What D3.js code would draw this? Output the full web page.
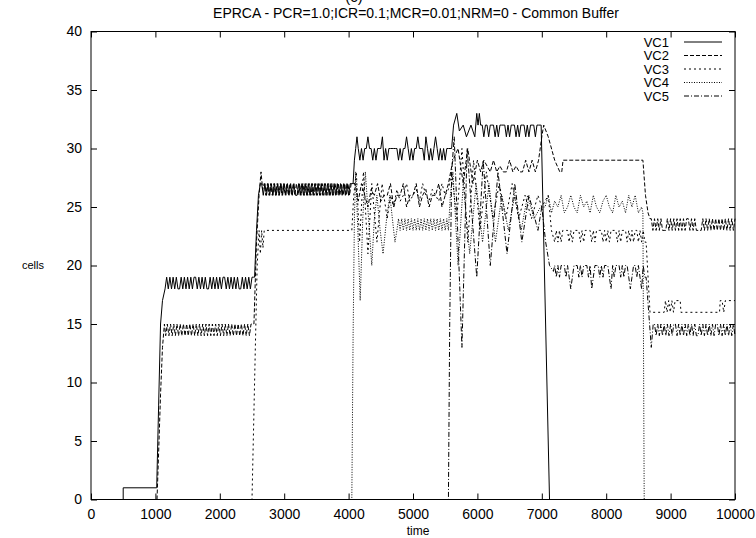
<!DOCTYPE html>
<html>
<head>
<meta charset="utf-8">
<script src="https://cdn.jsdelivr.net/npm/d3@7/dist/d3.min.js"></script>
<style>
body { margin: 0; background: #fff; }
text { font-family: "Liberation Sans", Arial, sans-serif; fill: #000; }
</style>
</head>
<body>
<svg id="chart" width="756" height="538"></svg>
<script>
////////////////////////////////////////////////////////////////////////
// Data: cells per VC over time.  A piece is either a list of [time, cells]
// points or a run {t: start, dt: step, v: [cells...]} read at a fixed step.

let titleText = "EPRCA - PCR=1.0;ICR=0.1;MCR=0.01;NRM=0 - Common Buffer";
let xTicks = [0, 1000, 2000, 3000, 4000, 5000, 6000, 7000, 8000, 9000, 10000];
let yTicks = [0, 5, 10, 15, 20, 25, 30, 35, 40];
let vcNames = ["VC1", "VC2", "VC3", "VC4", "VC5"];

let vc1 = [
  [[0,0],[500,0],[500,1],[1020,1],[1050,8],[1080,15],[1110,17],[1150,18]],
  {t: 1175, dt: 25, v: [19,18,19,18,19,18,19,18,18,19, 18,19,18,19,18,19,18,19,19,18,
                        19,18,19,18,19,18,18,19,18,19, 18,19,18,19,18,19,19,18,19,18,
                        19,18,19,18,19,18,18,19,18,19, 18,19,18,19,19]},
  [[2540,19],[2570,23],[2600,26],[2630,27]],
  {t: 2650, dt: 25, v: [27,26,27,26,27,26,27,26,27,26, 27,26,27,26,27,26,27,26,27,26,
                        27,26,26,27,26,27,26,27,26,27, 26,27,26,27,26,27,26,27,26,27,
                        26,27,26,27,26,27,26,27,26,27, 26,27,26,27,26,27,27]},
  [[4070,27],[4090,29],[4110,30],[4130,31],[4150,30]],
  {t: 4175, dt: 25, v: [29,30,29,30,30,31,30,30,29,30, 29,30,30,30,31,29,30,29,30,30,
                        30,30,30,30,29,30,29,30,30,31, 30,29,30,29,30,30,31,30,30,30,
                        29,31,30,29,30,29,30,31,30,29, 30,29,30,29,30,30,30]},
  [[5600,30],[5630,32],[5680,33],[5720,31.5],[5780,32],[5830,31],[5900,32],[5960,31],
   [5990,33],[6010,32],[6030,33],[6050,32]],
  {t: 6075, dt: 25, v: [32,31,32,32,31,32,32,32,31,32, 31,32,32,32,32,31,32,31,32,32,
                        32,31,32,31,32,32,32,31,32,31, 32,32,32,31,32,32,32]},
  [[6990,32],[7120,0],[10000,0]]
];

let vc2 = [
  [[0,0],[1025,0],[1050,4],[1080,9],[1110,13],[1140,15]],
  {t: 1160, dt: 25, v: [14,15,14,15,14,15,14,15,14,15, 14,15,14,15,14,15,14,15,14,15,
                        14,15,14,15,14,15,14,15,14,15, 14,15,14,15,14,15,14,15,14,15,
                        14,15,14,15,14,15,14,15,14,15, 14,15,14,15,15]},
  [[2530,15],[2570,22],[2610,26],[2640,28],[2665,26.5]],
  {t: 2690, dt: 25, v: [27,26,27,26,27,26,27,26,27,26, 27,26,27,26,27,26,27,26,27,26,
                        27,26,27,26,27,26,27,26,27,26, 27,26,27,26,27,26,27,26,27,26,
                        27,26,27,26,27,26,27,26,27,26, 27,26,27,26,27]},
  [[4100,27],[4150,25.5],[4200,27],[4250,26],[4300,25],[4350,26.5],[4400,26],[4450,27],
   [4500,25.5],[4550,26],[4600,26],[4650,27],[4700,25],[4750,26],[4800,26],[4850,27],
   [4900,25],[4950,26],[5000,26],[5050,27],[5100,25],[5150,26],[5200,26.5],[5250,25],
   [5300,26],[5350,26],[5400,27],[5450,25],[5500,26],[5550,27]],
  [[5620,29],[5700,30],[5780,27],[5850,30],[5930,27],[6000,29],[6050,28],[6100,29],
   [6150,28.5],[6200,28],[6250,29],[6300,28],[6350,28.5],[6400,28],[6450,28],[6500,29],
   [6550,28],[6600,28.5],[6650,28],[6700,28],[6750,29],[6800,28],[6850,29],[6900,28],
   [6950,29],[7000,31],[7030,32],[7100,31],[7200,29],[7280,28],[7310,28],[7330,29],
   [8570,29],[8610,26],[8650,24.5],[8680,24]],
  {t: 8700, dt: 25, v: [24,23,24,23,24,23,24,23,23,23, 24,23,24,23,24,23,24,23,24,23,
                        24,23,24,24,23,24,23,24,23,23, 23,23,24,23,24,23,24,23,24,23,
                        24,23,24,23,24,23,24,23,24,23, 24,23,24]}
];

let vc3 = [
  [[0,0],[2500,0],[2540,10],[2580,20],[2610,23],[2630,21],[2650,23],[2670,21.5],[2690,23],
   [4050,23],[4080,26],[4120,28],[4170,22],[4230,28],[4300,21],[4360,27],[4440,22],
   [4520,27],[4600,24],[4650,26],[4700,25],[4750,26.5],[4800,25.5],[4850,26],[4900,27],
   [4950,25.5],[5000,26],[5050,26.5],[5100,25.5],[5150,27],[5200,26],[5250,25.5],[5300,26.5],
   [5350,26],[5400,25.5],[5450,27],[5500,26],[5550,26.5],
   [5600,28],[5680,24],[5760,30],[5850,22],[5940,29],[6040,23],[6140,28],[6240,24],
   [6340,27],[6440,24],[6540,27],[6640,24],[6740,26],[6840,24],[6940,26],[7000,25],
   [7100,26],[7150,23],[7200,22]],
  {t: 7225, dt: 25, v: [23,22,23,22,23,23,23,23,22,23, 22,23,23,23,23,22,23,22,23,23,
                        23,23,22,23,22,23,23,23,23,22, 23,22,23,22,23,23,23,23,22,23,
                        22,23,23,23,22,23,22,23,22,23, 23,22,23,22,23,22]},
  [[8620,22],[8650,19],[8680,16],[8900,16],[8920,17],[8945,16],[8970,17],[8995,16],
   [9020,17],[9045,16],[9070,17],[9150,17],[9160,16],[9760,16],[9770,17],[9800,17],
   [9825,16],[9850,17],[10000,17]]
];

let vc4 = [
  [[0,0],[4050,0],[4070,14],[4090,24],[4110,28],[4150,22],[4180,17],[4220,24],[4260,28],
   [4310,24],[4360,20],[4400,24],[4440,26],[4490,23],[4535,21],[4590,24],[4640,26],
   [4680,24],[4720,22],[4750,23]],
  {t: 4775, dt: 25, v: [24,23,24,23,24,23,24,23,24,23, 24,23,24,23,24,23,24,23,24,23,
                        24,23,24,23,24,23,24,23,24,23, 24,23]},
  [[5580,26],[5620,28],[5700,20],[5780,27],[5880,21],[5980,27],[6080,22],[6180,27],
   [6280,22],[6380,26],[6480,23],[6580,26],[6680,23],[6780,26],[6880,24],[6980,25]],
  {t: 7050, dt: 50, v: [25,26,24.5,25.5,25,26,24.5,25,26,25, 24.5,26,25,25.5,24.5,26,25,24.5,25.5,26,
                        25,24.5,26,25,25.5,24.5,26,25,26,24.5, 25]},
  [[8570,24.5],[8590,0],[10000,0]]
];

let vc5 = [
  [[0,0],[5550,0],[5570,15],[5600,28],[5640,31],[5680,25],[5760,13],[5840,30],[5920,24],
   [5990,19],[6090,29],[6200,20],[6320,28],[6460,21],[6580,27],[6690,22],[6800,26],
   [6940,23],[7000,25],[7060,22],[7120,20],[7180,19.5]],
  {t: 7200, dt: 25, v: [20,19,20,19,20,20,20,19,20,19, 18,19,20,20,20,19,20,19,20,20,
                        20,19,20,18,19,20,20,20,19,20, 19,20,20,20,19,18,20,19,20,20,
                        20,19,20,19,20,20,19,18,19,20, 20,19,20,19,18,20,19]},
  [[8620,19],[8660,16],[8700,13],[8730,15]],
  {t: 8750, dt: 25, v: [15,14,15,14,15,14,15,14,15,14, 15,14,15,15,14,15,14,15,14,15,
                        14,15,14,15,14,15,14,14,15,14, 15,14,15,14,15,14,15,14,15,15,
                        14,15,14,15,14,15,14,15,14,15, 14]}
];

let vcDash = ["none", "4,2", "2,3", "1,1.5", "5,2,1,2"];

////////////////////////////////////////////////////////////////////////
// Helpers

function expand(pieces) {
  let out = [];
  pieces.forEach(function(p) {
    if (Array.isArray(p)) out = out.concat(p);
    else p.v.forEach(function(v, i) { out.push([p.t + i * p.dt, v]); });
  });
  return out;
}

let series = [vc1, vc2, vc3, vc4, vc5].map(function(pieces, i) {
  return { name: vcNames[i], dash: vcDash[i], points: expand(pieces) };
});

////////////////////////////////////////////////////////////////////////
// Layout and scales

let plotLeft = 91, plotRight = 735, plotTop = 31.5, plotBottom = 499.5;

let xScale = d3.scaleLinear().domain([0, 10000]).range([plotLeft, plotRight]);
let yScale = d3.scaleLinear().domain([0, 40]).range([plotBottom, plotTop]);

let svg = d3.select("#chart");

// panel label, clipped by the top edge as in the source figure
svg.append("text")
  .attr("x", 354).attr("y", 2)
  .attr("text-anchor", "middle")
  .style("font-size", "15px")
  .text("(c)");

svg.append("text")
  .attr("x", 416).attr("y", 18)
  .attr("text-anchor", "middle")
  .style("font-size", "14px")
  .text(titleText);

// axes, ticks point inward like gnuplot
let xAxis = d3.axisBottom(xScale).tickValues(xTicks).tickSize(-6).tickPadding(10)
  .tickFormat(d3.format("d"));
let yAxis = d3.axisLeft(yScale).tickValues(yTicks).tickSize(-6).tickPadding(9);

svg.append("g").attr("transform", "translate(0," + plotBottom + ")").call(xAxis);
svg.append("g").attr("transform", "translate(" + plotLeft + ",0)").call(yAxis);
svg.append("g").attr("transform", "translate(0," + plotTop + ")")
  .call(d3.axisTop(xScale).tickValues(xTicks).tickSize(-6).tickFormat(""));
svg.append("g").attr("transform", "translate(" + plotRight + ",0)")
  .call(d3.axisRight(yScale).tickValues(yTicks).tickSize(-6).tickFormat(""));

svg.selectAll(".domain").remove();
svg.selectAll(".tick line").attr("stroke", "#000");
svg.selectAll(".tick text")
  .style("font-family", "'Liberation Sans', Arial, sans-serif")
  .style("font-size", "14px")
  .attr("fill", "#000");

svg.append("rect")
  .attr("x", plotLeft).attr("y", plotTop)
  .attr("width", plotRight - plotLeft).attr("height", plotBottom - plotTop)
  .attr("fill", "none").attr("stroke", "#000");

svg.append("text")
  .attr("x", 33).attr("y", 269)
  .attr("text-anchor", "middle")
  .style("font-size", "11px")
  .text("cells");

svg.append("text")
  .attr("x", 418).attr("y", 535)
  .attr("text-anchor", "middle")
  .style("font-size", "12px")
  .text("time");

////////////////////////////////////////////////////////////////////////
// Lines

let line = d3.line()
  .x(function(d) { return xScale(d[0]); })
  .y(function(d) { return yScale(d[1]); });

let plot = svg.append("g");
plot.selectAll("path")
  .data(series)
  .enter()
  .append("path")
  .attr("d", function(d) { return line(d.points); })
  .attr("fill", "none")
  .attr("stroke", "#000")
  .attr("stroke-width", 1)
  .attr("stroke-dasharray", function(d) { return d.dash; });

// legend
let legend = svg.append("g")
  .selectAll("g")
  .data(series)
  .enter()
  .append("g")
  .attr("transform", function(d, i) { return "translate(0," + (42 + i * 13.5) + ")"; });

legend.append("text")
  .attr("x", 669).attr("y", 4.5)
  .attr("text-anchor", "end")
  .style("font-size", "13px")
  .text(function(d) { return d.name; });

legend.append("line")
  .attr("x1", 684).attr("x2", 722)
  .attr("y1", 0).attr("y2", 0)
  .attr("stroke", "#000")
  .attr("stroke-dasharray", function(d) { return d.dash; });
</script>
</body>
</html>
